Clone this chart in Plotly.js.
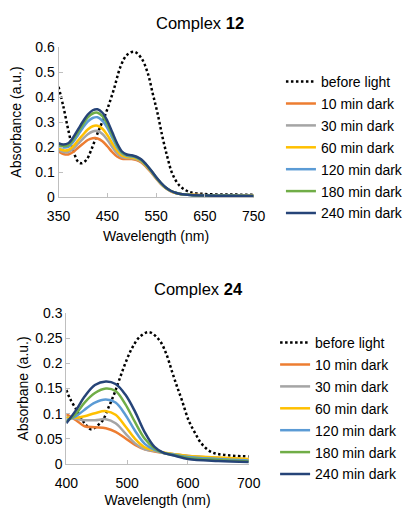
<!DOCTYPE html>
<html>
<head>
<meta charset="utf-8">
<script src="https://cdn.plot.ly/plotly-3.0.1.min.js"></script>
<style>html,body{margin:0;padding:0;background:#fff;}#chart{width:408px;height:508px;}</style>
</head>
<body>
<div id="chart"></div>
<script>
// ---------- Complex 12 ----------
const seriesNames = ['10 min dark','30 min dark','60 min dark','120 min dark','180 min dark','240 min dark'];
const refName = 'before light';

const wlA_ref = [350,360,370,380,390,397,407,417,430,447,463,477,490,505,520,533,543,553,563,573,583,597,617,650,700,750];
const absA_ref = [0.441,0.361,0.268,0.188,0.141,0.135,0.148,0.188,0.255,0.335,0.428,0.521,0.568,0.581,0.555,0.495,0.415,0.335,0.241,0.161,0.095,0.048,0.021,0.012,0.010,0.009];

const wlA = [350,360,370,380,390,400,410,420,430,440,450,460,470,480,490,500,510,520,530,540,550,560,570,580,590,600,620,650,700,750];
const absA_10  = [0.183,0.172,0.170,0.180,0.197,0.213,0.228,0.235,0.234,0.223,0.203,0.180,0.162,0.153,0.152,0.152,0.148,0.138,0.120,0.098,0.074,0.052,0.035,0.023,0.016,0.012,0.009,0.007,0.006,0.005];
const absA_30  = [0.190,0.180,0.180,0.193,0.213,0.233,0.251,0.262,0.264,0.252,0.229,0.200,0.175,0.160,0.156,0.155,0.151,0.141,0.122,0.100,0.075,0.053,0.036,0.024,0.016,0.012,0.009,0.007,0.006,0.005];
const absA_60  = [0.195,0.187,0.188,0.203,0.226,0.249,0.270,0.283,0.285,0.273,0.248,0.215,0.185,0.166,0.160,0.158,0.153,0.143,0.124,0.102,0.077,0.054,0.036,0.024,0.016,0.012,0.009,0.007,0.005,0.005];
const absA_120 = [0.205,0.198,0.200,0.220,0.248,0.277,0.302,0.316,0.319,0.305,0.277,0.238,0.200,0.175,0.165,0.162,0.157,0.146,0.127,0.104,0.078,0.055,0.037,0.024,0.017,0.012,0.008,0.006,0.005,0.004];
const absA_180 = [0.210,0.204,0.207,0.230,0.260,0.290,0.318,0.334,0.337,0.323,0.292,0.250,0.208,0.179,0.168,0.165,0.159,0.148,0.128,0.105,0.079,0.056,0.037,0.025,0.017,0.012,0.008,0.006,0.005,0.004];
const absA_240 = [0.215,0.210,0.215,0.238,0.270,0.302,0.330,0.347,0.351,0.337,0.305,0.260,0.215,0.182,0.170,0.167,0.161,0.150,0.130,0.106,0.080,0.057,0.038,0.025,0.017,0.012,0.008,0.006,0.005,0.004];

// ---------- Complex 24 ----------
const wlB_ref = [400,406,417,430,440,447,452,460,470,479,487,497,508,521,536,553,564,574,582,590,601,612,622,638,660,700];
const absB_ref = [0.147,0.130,0.107,0.081,0.069,0.072,0.077,0.087,0.114,0.140,0.167,0.200,0.230,0.253,0.262,0.246,0.220,0.183,0.154,0.127,0.087,0.061,0.041,0.024,0.018,0.015];

const wlB = [400,416,430,447,465,481,497,513,529,545,560,580,600,650,700];
const absB_10  = [0.099,0.087,0.075,0.073,0.071,0.064,0.051,0.038,0.029,0.025,0.022,0.019,0.016,0.012,0.009];
const absB_30  = [0.094,0.090,0.087,0.087,0.089,0.081,0.061,0.041,0.029,0.026,0.022,0.019,0.016,0.012,0.009];
const absB_60  = [0.092,0.092,0.095,0.101,0.105,0.098,0.075,0.050,0.033,0.027,0.023,0.019,0.016,0.013,0.010];
const absB_120 = [0.087,0.095,0.108,0.122,0.128,0.122,0.098,0.066,0.040,0.028,0.022,0.018,0.014,0.010,0.007];
const absB_180 = [0.084,0.100,0.122,0.141,0.150,0.145,0.119,0.083,0.050,0.031,0.022,0.017,0.012,0.008,0.005];
const absB_240 = [0.081,0.107,0.134,0.157,0.164,0.159,0.138,0.104,0.063,0.034,0.022,0.016,0.010,0.006,0.004];

const colors = ['#ED7D31','#A5A5A5','#FFC000','#5B9BD5','#70AD47','#264478'];
const FONT = 'Liberation Sans, Arial, sans-serif';

const dataA = [absA_10,absA_30,absA_60,absA_120,absA_180,absA_240];
const dataB = [absB_10,absB_30,absB_60,absB_120,absB_180,absB_240];

const traces = [];
traces.push({x: wlA_ref, y: absA_ref, name: refName, mode: 'lines', xaxis: 'x', yaxis: 'y', legend: 'legend', legendgroup: 'a0',
  line: {color: '#000', width: 2.5, dash: '2.5px,2.5px', shape: 'spline', smoothing: 1}});
dataA.forEach((d, i) => traces.push({x: wlA, y: d, name: seriesNames[i], mode: 'lines', xaxis: 'x', yaxis: 'y', legend: 'legend', legendgroup: 'a' + (i + 1),
  line: {color: colors[i], width: 2.5, shape: 'spline', smoothing: 1}}));
traces.push({x: wlB_ref, y: absB_ref, name: refName, mode: 'lines', xaxis: 'x2', yaxis: 'y2', legend: 'legend2', legendgroup: 'b0',
  line: {color: '#000', width: 2.5, dash: '2.5px,2.5px', shape: 'spline', smoothing: 1}});
dataB.forEach((d, i) => traces.push({x: wlB, y: d, name: seriesNames[i], mode: 'lines', xaxis: 'x2', yaxis: 'y2', legend: 'legend2', legendgroup: 'b' + (i + 1),
  line: {color: colors[i], width: 2.5, shape: 'spline', smoothing: 1}}));

const axisCommon = {showgrid: false, zeroline: false, showline: true, linecolor: '#BFBFBF', linewidth: 1,
  ticks: 'inside', ticklen: 4, tickcolor: '#BFBFBF', tickfont: {size: 14, color: '#000', family: FONT}, fixedrange: true, automargin: false};

const W = 408, H = 508;
const px = v => v / W, py = v => 1 - v / H;

const legendCommon = {font: {size: 14, color: '#000', family: FONT}, bgcolor: 'rgba(0,0,0,0)', traceorder: 'grouped', tracegroupgap: 0.7,
  xanchor: 'left', yanchor: 'top', itemwidth: 30};

const layout = {
  width: W, height: H,
  margin: {l: 0, r: 0, t: 0, b: 0},
  paper_bgcolor: '#fff', plot_bgcolor: '#fff',
  font: {family: FONT, color: '#000', size: 14},
  showlegend: true,
  xaxis: Object.assign({}, axisCommon, {domain: [px(60), px(260)], range: [350, 750], dtick: 100, tick0: 350, anchor: 'y',
    ticklabelstandoff: 6,
    title: {text: 'Wavelength (nm)', font: {size: 14, family: FONT}, standoff: 8}}),
  yaxis: Object.assign({}, axisCommon, {domain: [py(197), py(47)], range: [0, 0.6], dtick: 0.1, anchor: 'x',
    title: {text: 'Absorbance (a.u.)', font: {size: 14, family: FONT}}}),
  xaxis2: Object.assign({}, axisCommon, {domain: [px(68), px(255)], range: [400, 700], dtick: 100, tick0: 400, anchor: 'y2',
    ticklabelstandoff: 6,
    title: {text: 'Wavelength (nm)', font: {size: 14, family: FONT}, standoff: 11}}),
  yaxis2: Object.assign({}, axisCommon, {domain: [py(464), py(313)], range: [0, 0.3], dtick: 0.05, anchor: 'x2',
    title: {text: 'Absorbane (a.u.)', font: {size: 14, family: FONT}}}),
  legend: Object.assign({}, legendCommon, {x: px(288), y: py(66)}),
  legend2: Object.assign({}, legendCommon, {x: px(282), y: py(327)}),
  annotations: [
    {text: 'Complex <b>12</b>', x: px(205), y: py(23), xref: 'paper', yref: 'paper', showarrow: false, xanchor: 'center', yanchor: 'middle',
      font: {size: 16.5, family: FONT, color: '#000'}},
    {text: 'Complex <b>24</b>', x: px(203), y: py(289), xref: 'paper', yref: 'paper', showarrow: false, xanchor: 'center', yanchor: 'middle',
      font: {size: 16.5, family: FONT, color: '#000'}}
  ]
};

Plotly.newPlot('chart', traces, layout, {displayModeBar: false, staticPlot: true});
</script>
</body>
</html>
